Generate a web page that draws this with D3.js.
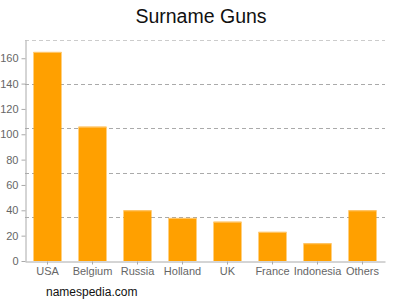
<!doctype html>
<html>
<head>
<meta charset="utf-8">
<script src="https://unpkg.com/d3@7/dist/d3.min.js"></script>
<style>
  body { margin: 0; background: #fff; }
  text { font-family: "Liberation Sans", Arial, sans-serif; }
</style>
</head>
<body>
<svg id="chart" width="400" height="300"></svg>
<script>
  var countries = ["USA", "Belgium", "Russia", "Holland", "UK", "France", "Indonesia", "Others"];
  var counts = [165, 106, 40, 34, 31, 23, 14, 40];
  var yTicks = [0, 20, 40, 60, 80, 100, 120, 140, 160];
  var yMax = 174.4;

  var svg = d3.select("#chart");
  var plotLeft = 25, plotRight = 385, plotTop = 40, plotBottom = 261;

  var x = d3.scaleBand().domain(countries).range([plotLeft, plotRight])
    .paddingInner(0.378).paddingOuter(0.189);
  var y = d3.scaleLinear().domain([0, yMax]).range([plotBottom, plotTop]);

  // title
  svg.append("text").attr("x", 201).attr("y", 23).attr("text-anchor", "middle")
    .style("font-size", "19.5px").style("fill", "#111").text("Surname Guns");

  // dashed grid at fifths of the axis
  var grid = d3.range(1, 6).map(function (k) { return yMax * k / 5; });
  svg.append("g").selectAll("line").data(grid).enter().append("line")
    .attr("x1", plotLeft).attr("x2", plotRight)
    .attr("y1", function (d) { return Math.round(y(d)) + 0.5; })
    .attr("y2", function (d) { return Math.round(y(d)) + 0.5; })
    .style("stroke", function (d, i) { return i == 4 ? "#ccc" : "#aaa"; })
    .style("stroke-dasharray", "4,3");

  // bars
  svg.append("g").selectAll("rect").data(counts).enter().append("rect")
    .attr("x", function (d, i) { return x(countries[i]); })
    .attr("y", function (d) { return y(d); })
    .attr("width", x.bandwidth())
    .attr("height", function (d) { return plotBottom - y(d); })
    .style("fill", "#ffa000");
  svg.append("g").selectAll("line").data(counts).enter().append("line")
    .attr("x1", function (d, i) { return x(countries[i]); })
    .attr("x2", function (d, i) { return x(countries[i]) + x.bandwidth(); })
    .attr("y1", function (d) { return y(d) + 0.5; })
    .attr("y2", function (d) { return y(d) + 0.5; })
    .style("stroke", "#ffc870");

  // y axis
  var yAxis = svg.append("g").attr("transform", "translate(" + (plotLeft + 0.5) + ",0)")
    .call(d3.axisLeft(y).tickValues(yTicks).tickSize(4).tickPadding(3).tickSizeOuter(0));
  yAxis.select(".domain").style("stroke", "#aaa");
  yAxis.selectAll(".tick line").style("stroke", "#aaa");
  yAxis.selectAll("text").style("font-size", "11px").style("fill", "#666").style("font-family", "Liberation Sans, Arial, sans-serif");

  // x axis
  var xAxis = svg.append("g").attr("transform", "translate(0," + (plotBottom + 0.5) + ")")
    .call(d3.axisBottom(x).tickSize(3).tickPadding(3).tickSizeOuter(0));
  xAxis.select(".domain").style("stroke", "#aaa");
  xAxis.selectAll(".tick line").style("stroke", "#aaa");
  xAxis.selectAll("text").style("font-size", "11px").style("fill", "#666").style("font-family", "Liberation Sans, Arial, sans-serif");

  // source
  svg.append("text").attr("x", 46).attr("y", 296)
    .style("font-size", "12px").style("fill", "#111").text("namespedia.com");
</script>
</body>
</html>
